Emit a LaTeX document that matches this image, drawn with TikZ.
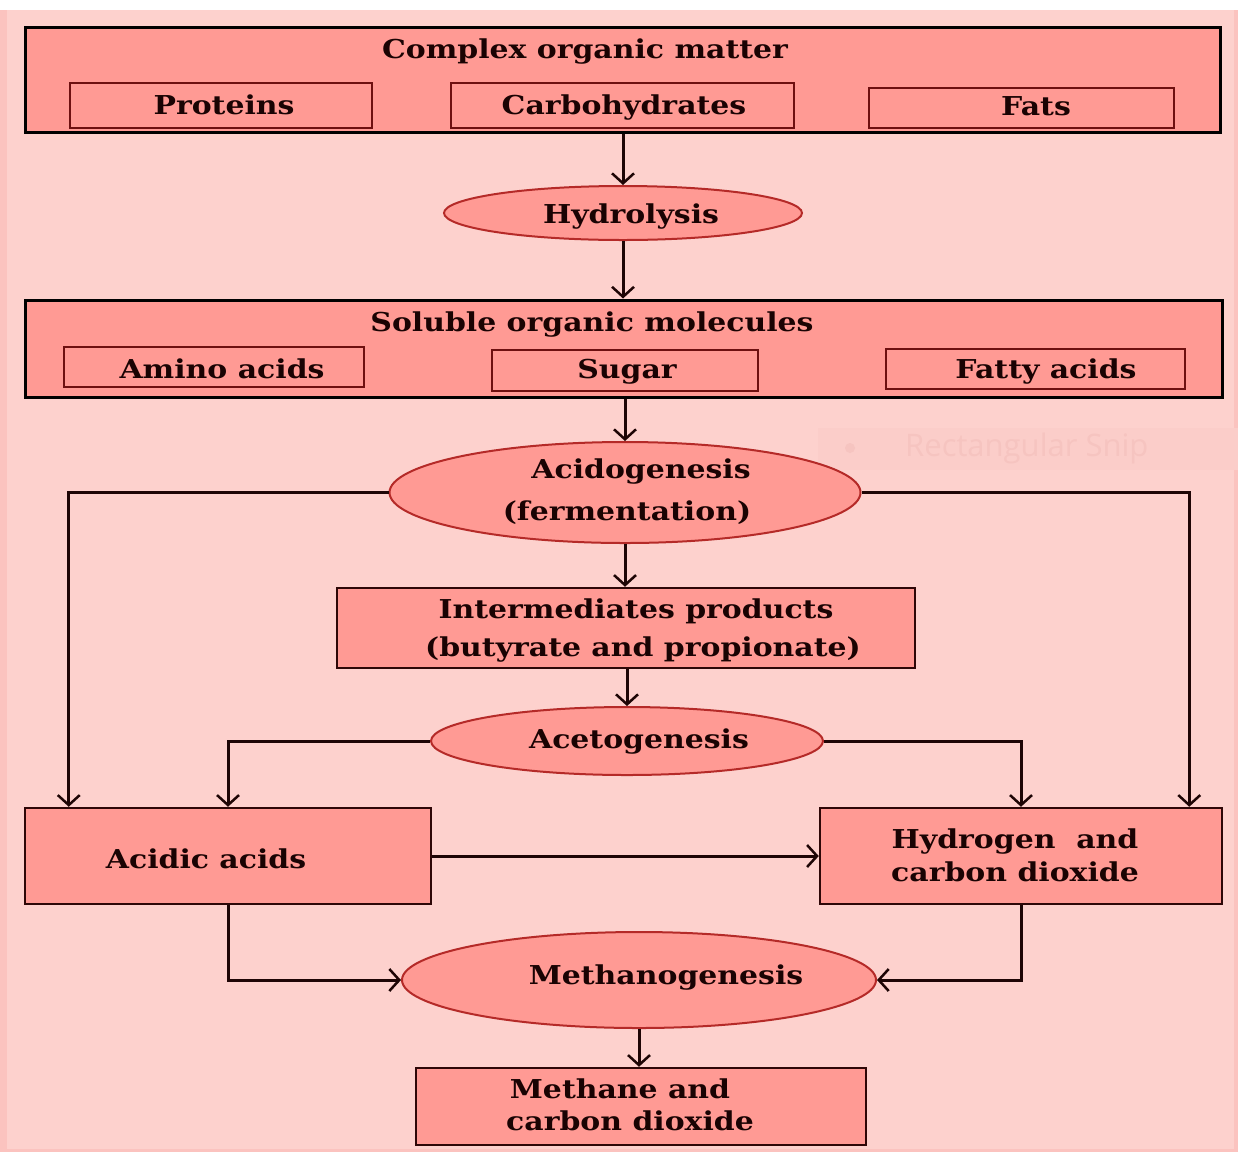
\documentclass[tikz,border=0pt]{standalone}
\usepackage{fontspec}
\setmainfont{DejaVu Serif}[FakeStretch=1.15]
\newfontfamily\snipfont{Open Sans}
\usetikzlibrary{shapes.geometric,arrows.meta,calc}
\definecolor{bgpink}{HTML}{FDD1CD}
\definecolor{bandpink}{HTML}{FBC3BF}
\definecolor{boxfill}{HTML}{FF9A94}
\definecolor{darkred}{HTML}{6E1010}
\definecolor{ellred}{HTML}{B52A28}
\definecolor{linedark}{HTML}{1E0505}
\definecolor{textdark}{HTML}{1A0303}
\definecolor{snipbg}{HTML}{FBCDC9}
\definecolor{sniptext}{HTML}{F6C4C0}
\begin{document}
\begin{tikzpicture}[x=1pt,y=-1pt,
  outer/.style={rectangle, draw=black, line width=3pt, fill=boxfill, inner sep=0pt},
  inbox/.style={rectangle, draw=darkred, line width=2.5pt, fill=boxfill, inner sep=0pt},
  midbox/.style={rectangle, draw=linedark!80!darkred, line width=2.5pt, fill=boxfill, inner sep=0pt},
  ell/.style={ellipse, draw=ellred, line width=2pt, fill=boxfill, inner sep=0pt},
  txt/.style={font=\fontsize{26}{30}\selectfont\bfseries, text=textdark, anchor=base, inner sep=0pt},
  arr/.style={draw=linedark, line width=3pt, -{Straight Barb[length=10pt,width=22pt,line width=2.5pt]}},
  conn/.style={draw=linedark, line width=3pt}]
% background
\fill[white] (0,0) rectangle (1238,1152);
\fill[bandpink] (0,10) rectangle (1238,1152);
\fill[bgpink] (7,10) rectangle (1234,1149);
\useasboundingbox (0,0) rectangle (1238,1152);
% faint screenshot artifact
\fill[snipbg] (818,428) rectangle (1238,470);
\fill[sniptext] (850,448) circle (5);
\node[font=\snipfont\fontsize{31}{36}\selectfont, text=sniptext, anchor=west, inner sep=0pt] (snip) at (905,448) {Rectangular Snip};

% top box
\node[outer, minimum width=1195pt, minimum height=105pt] (box1) at (622.5,79.5) {};
\node[txt] (t1) at (585,58) {Complex organic matter};
\node[inbox, minimum width=302pt, minimum height=45pt] (prot) at (221,105.5) {};
\node[inbox, minimum width=343pt, minimum height=45pt] (carb) at (622.5,105.5) {};
\node[inbox, minimum width=305pt, minimum height=40pt] (fats) at (1021.5,108) {};
\node[txt] (tprot) at (224,114) {Proteins};
\node[txt] (tcarb) at (624,114) {Carbohydrates};
\node[txt] (tfats) at (1036,115) {Fats};

% hydrolysis
\node[ell, minimum width=358pt, minimum height=54pt] (hyd) at (623,213) {};
\node[txt] (thyd) at (631,223) {Hydrolysis};

% soluble box
\node[outer, minimum width=1197pt, minimum height=97pt] (box2) at (623.5,348.5) {};
\node[txt] (t2) at (592,331) {Soluble organic molecules};
\node[inbox, minimum width=300pt, minimum height=40pt] (amino) at (214,367) {};
\node[inbox, minimum width=266pt, minimum height=41pt] (sugar) at (625,370.5) {};
\node[inbox, minimum width=299pt, minimum height=40pt] (fatty) at (1035.5,369) {};
\node[txt] (tamino) at (222,378) {Amino acids};
\node[txt] (tsugar) at (627,378) {Sugar};
\node[txt] (tfatty) at (1046,378) {Fatty acids};

% acidogenesis
\node[ell, minimum width=471pt, minimum height=101pt] (acido) at (625,492.5) {};
\node[txt] (tacido1) at (641,478) {Acidogenesis};
\node[txt] (tacido2) at (627,520) {(fermentation)};

% intermediates
\node[midbox, minimum width=578pt, minimum height=80pt] (inter) at (626,628) {};
\node[txt] (tint1) at (636,618) {Intermediates products};
\node[txt] (tint2) at (643,656) {(butyrate and propionate)};

% acetogenesis
\node[ell, minimum width=392pt, minimum height=68pt] (aceto) at (627,741) {};
\node[txt] (taceto) at (639,748) {Acetogenesis};

% acidic acids and hydrogen
\node[midbox, minimum width=406pt, minimum height=96pt] (acidic) at (228,856) {};
\node[txt] (tacidic) at (206,868) {Acidic acids};
\node[midbox, minimum width=402pt, minimum height=96pt] (h2) at (1021,856) {};
\node[txt] (th1) at (1015,848) {Hydrogen~~and};
\node[txt] (th2) at (1015,881) {carbon dioxide};

% methanogenesis
\node[ell, minimum width=474pt, minimum height=96pt] (methano) at (639,980) {};
\node[txt] (tmethano) at (666,984) {Methanogenesis};

% methane
\node[midbox, minimum width=450pt, minimum height=77pt] (methane) at (641,1106.5) {};
\node[txt] (tm1) at (620,1098) {Methane and};
\node[txt] (tm2) at (630,1130) {carbon dioxide};

% connectors
\draw[arr] (hyd.north |- box1.south) -- (hyd.north);
\draw[arr] (hyd.south) -- (hyd.south |- box2.north);
\draw[arr] (acido.north |- box2.south) -- (acido.north);
\draw[arr] (acido.west) -| ([xshift=45pt]acidic.north west);
\draw[arr] (acido.east) -| ([xshift=-34pt]h2.north east);
\draw[arr] (acido.south) -- (acido.south |- inter.north);
\draw[arr] (aceto.north |- inter.south) -- (aceto.north);
\draw[arr] (aceto.west) -| (acidic.north);
\draw[arr] (aceto.east) -| (h2.north);
\draw[arr] (acidic.east) -- (h2.west);
\draw[arr] (acidic.south) |- (methano.west);
\draw[arr] (h2.south) |- (methano.east);
\draw[arr] (methano.south) -- (methano.south |- methane.north);
\end{tikzpicture}
\end{document}
